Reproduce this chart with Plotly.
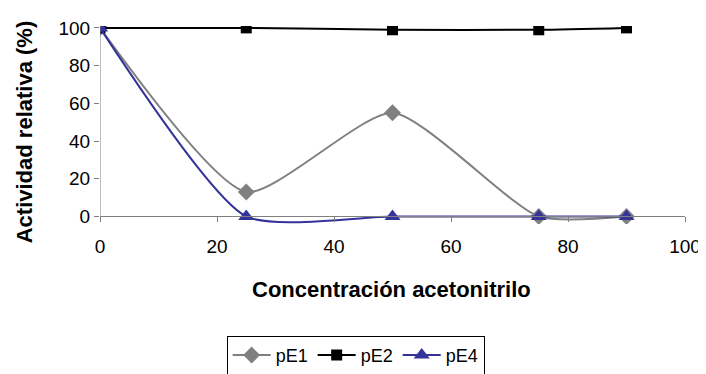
import plotly.graph_objects as go

# concentracion de acetonitrilo (%)
conc = [0, 25, 50, 75, 90]
pE1 = [100, 13, 55, 0, 0]
pE2 = [100, 100, 99, 99, 100]
pE4 = [100, 0, 0, 0, 0]

fig = go.Figure()
fig.add_trace(go.Scatter(x=conc, y=pE1, name='pE1', mode='lines+markers',
                         line=dict(color='#808080', width=2, shape='spline', smoothing=0.6),
                         marker=dict(symbol='diamond', size=13, color='#808080')))
fig.add_trace(go.Scatter(x=conc, y=pE2, name='pE2', mode='lines+markers',
                         line=dict(color='black', width=2, shape='spline', smoothing=0.6),
                         marker=dict(symbol='square', size=11, color='black')))
fig.add_trace(go.Scatter(x=conc, y=pE4, name='pE4', mode='lines+markers',
                         line=dict(color='#333399', width=2, shape='spline', smoothing=0.6),
                         marker=dict(symbol='triangle-up', size=14, color='#333399')))

# la pagina tiene 8px de margen en el body
fig.update_layout(
    width=698, height=366,
    margin=dict(l=92, r=21, t=18, b=150, autoexpand=False),
    plot_bgcolor='white', paper_bgcolor='white',
    font=dict(family='Arial, Liberation Sans, sans-serif', color='black', size=19),
    showlegend=True,
    legend=dict(orientation='h', x=0.437, xanchor='center', y=-0.565, yanchor='top',
                bordercolor='black', borderwidth=1, font=dict(size=18),
                itemwidth=38, tracegroupgap=0),
)
fig.update_xaxes(range=[0, 100], tick0=0, dtick=20, showgrid=False, zeroline=False,
                 showline=True, linecolor='#808080', linewidth=1,
                 ticks='outside', ticklen=5, tickcolor='#808080', tickfont=dict(size=19),
                 ticklabelstandoff=8,
                 anchor='free', position=4 / 105, automargin=False)
fig.update_yaxes(range=[-4, 101], tickvals=[0, 20, 40, 60, 80, 100],
                 showgrid=False, zeroline=False, automargin=False,
                 showline=False, ticks='outside', ticklen=5, tickcolor='#808080', tickfont=dict(size=19))
# linea del eje y desde 0 hasta 100
fig.add_shape(type='line', xref='x', yref='y', x0=0, x1=0, y0=0, y1=101,
              line=dict(color='#808080', width=1))

fig.add_annotation(text='<b>Concentración acetonitrilo</b>', xref='paper', yref='paper',
                   x=0.499, y=-0.332, xanchor='center', yanchor='middle',
                   showarrow=False, font=dict(size=22))
fig.add_annotation(text='<b>Actividad relativa (%)</b>', xref='paper', yref='paper',
                   x=-0.13, y=0.468, xanchor='center', yanchor='middle',
                   showarrow=False, textangle=-90, font=dict(size=22))

fig.write_html('out.html')
